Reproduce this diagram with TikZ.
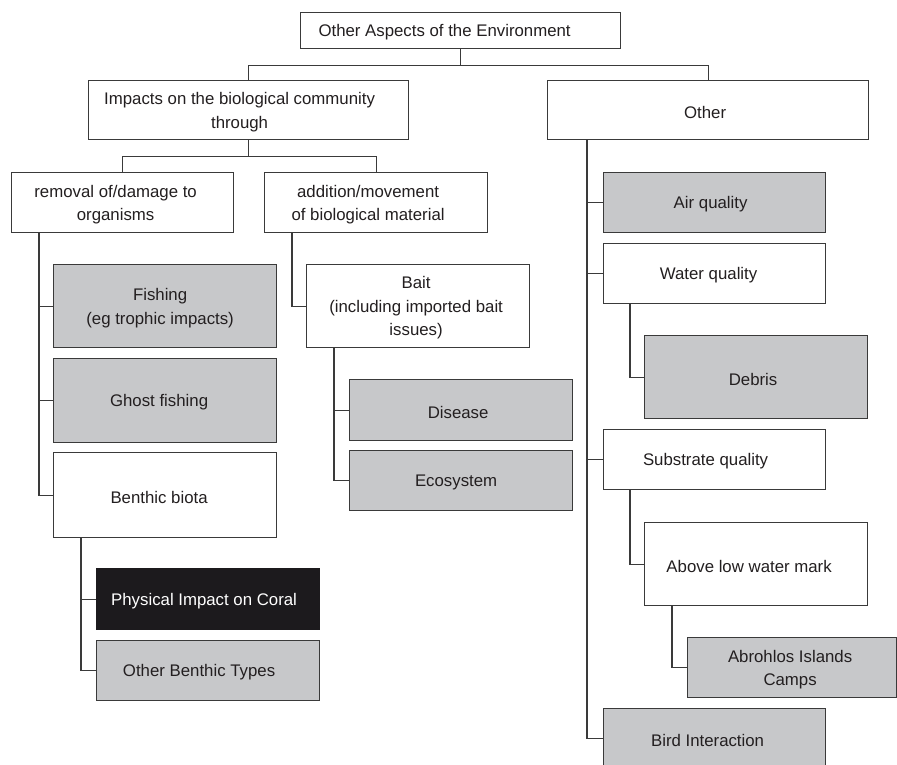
\documentclass[tikz,border=0pt]{standalone}
\usepackage{fontspec}
\setmainfont{Liberation Sans}
\definecolor{txt}{HTML}{231F20}
\definecolor{gfill}{HTML}{C7C8CA}
\definecolor{edge}{HTML}{3A3A3A}
\definecolor{kfill}{HTML}{1C1A1D}
\begin{document}
\begin{tikzpicture}[x=1pt,y=-1pt,
  box/.style={draw=edge, line width=1.2pt, anchor=north west, inner sep=0pt},
  wbox/.style={box, fill=white},
  gbox/.style={box, fill=gfill},
  kbox/.style={box, fill=kfill, draw=kfill},
  sz/.style 2 args={minimum width=#1pt, minimum height=#2pt},
  lbl/.style={font=\fontsize{16.8}{23.5}\selectfont, text=txt, align=center, inner sep=0pt, yshift=-2pt},
  t/.style={label={[lbl,xshift=-5pt]center:{#1}}},
  tx/.style 2 args={label={[lbl,xshift=#1pt]center:{#2}}},
  link/.style={draw=edge, line width=1.2pt}]
\path[use as bounding box] (0,0) rectangle (897,764);
\clip (0,0) rectangle (897,764);

% level 0
\node[wbox, sz={320}{36}, tx={-16}{Other Aspects of the Environment}] (root) at (300,12) {};
% level 1
\node[wbox, sz={320}{59}, tx={-9}{Impacts on the biological community\\through}] (impacts) at (88,80) {};
\node[wbox, sz={321}{59}, tx={-3}{Other}] (other) at (547,80) {};
% level 2 (left)
\node[wbox, sz={222}{60}, tx={-7}{removal of/damage to\\organisms}] (removal) at (11,172) {};
\node[wbox, sz={223}{60}, tx={-8}{addition/movement\\of biological material}] (addition) at (264,172) {};
% removal children
\node[gbox, sz={223}{83}, t={Fishing\\(eg trophic impacts)}] (fishing) at (53,264) {};
\node[gbox, sz={223}{84}, tx={-6}{Ghost fishing}] (ghost) at (53,358) {};
\node[wbox, sz={223}{85}, tx={-6}{Benthic biota}] (benthic) at (53,452) {};
\node[kbox, sz={223}{61}, label={[lbl,text=white,xshift=-4pt]center:{Physical Impact on Coral}}] (coral) at (96,568) {};
\node[gbox, sz={223}{60}, tx={-9}{Other Benthic Types}] (otherbenthic) at (96,640) {};
% addition children
\node[wbox, sz={223}{83}, tx={-2}{Bait\\(including imported bait\\issues)}] (bait) at (306,264) {};
\node[gbox, sz={223}{61}, tx={-3}{Disease}] (disease) at (349,379) {};
\node[gbox, sz={223}{60}, t={Ecosystem}] (ecosystem) at (349,450) {};
% other children
\node[gbox, sz={222}{60}, tx={-4}{Air quality}] (air) at (603,172) {};
\node[wbox, sz={222}{60}, tx={-6}{Water quality}] (water) at (603,243) {};
\node[gbox, sz={223}{83}, tx={-3}{Debris}] (debris) at (644,335) {};
\node[wbox, sz={222}{60}, tx={-9}{Substrate quality}] (substrate) at (603,429) {};
\node[wbox, sz={223}{83}, tx={-7}{Above low water mark}] (above) at (644,522) {};
\node[gbox, sz={209}{60}, tx={-2}{Abrohlos Islands\\Camps}] (abrohlos) at (687,637) {};
\node[gbox, sz={222}{60}, tx={-7}{Bird Interaction}] (bird) at (603,708) {};

% connectors
\draw[link] (root.south) -- ++(0,16) -| (impacts.north);
\draw[link] (root.south) ++(0,16) -| (other.north);
\draw[link] (impacts.south) -- ++(0,16) -| (removal.north);
\draw[link] (impacts.south) ++(0,16) -| (addition.north);

\draw[link] ([xshift=28pt]removal.south west) |- (benthic.west);
\draw[link] ([xshift=28pt]removal.south west) |- (fishing.west);
\draw[link] ([xshift=28pt]removal.south west) |- (ghost.west);

\draw[link] ([xshift=28pt]benthic.south west) |- (otherbenthic.west);
\draw[link] ([xshift=28pt]benthic.south west) |- (coral.west);

\draw[link] ([xshift=28pt]addition.south west) |- (bait.west);
\draw[link] ([xshift=28pt]bait.south west) |- (ecosystem.west);
\draw[link] ([xshift=28pt]bait.south west) |- (disease.west);

\draw[link] ([xshift=40pt]other.south west) |- (bird.west);
\draw[link] ([xshift=40pt]other.south west) |- (air.west);
\draw[link] ([xshift=40pt]other.south west) |- (water.west);
\draw[link] ([xshift=40pt]other.south west) |- (substrate.west);

\draw[link] ([xshift=27pt]water.south west) |- (debris.west);
\draw[link] ([xshift=27pt]substrate.south west) |- (above.west);
\draw[link] ([xshift=28pt]above.south west) |- (abrohlos.west);
\end{tikzpicture}
\end{document}
